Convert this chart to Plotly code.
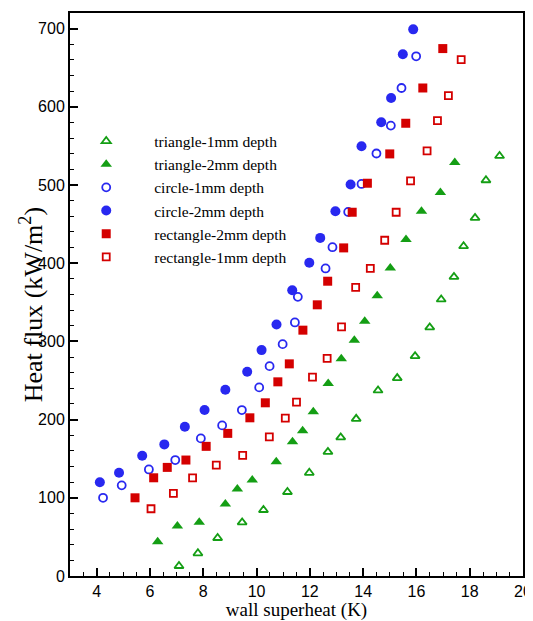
import plotly.graph_objects as go

# ---------------- data ----------------
tri1_x = [7.09, 7.80, 8.54, 9.46, 10.26, 11.16, 11.98, 12.68, 13.16, 13.74, 14.56, 15.28, 15.95, 16.50, 16.93, 17.41, 17.77, 18.20, 18.61, 19.12]
tri1_y = [12.8, 29, 48.6, 68.6, 84.4, 107.4, 132, 158.7, 177.3, 201, 237.3, 253.1, 281.2, 317.9, 353.7, 382.5, 421.8, 458, 506.1, 537.2]

tri2_x = [6.29, 7.03, 7.85, 8.83, 9.28, 9.84, 10.74, 11.35, 11.73, 12.13, 12.69, 13.18, 13.67, 14.06, 14.53, 15.02, 15.61, 16.19, 16.90, 17.44]
tri2_y = [43.8, 63.9, 68.6, 92, 111.2, 122.7, 146.1, 171.7, 185.7, 210, 246.3, 277.7, 301.6, 325.9, 358.3, 394, 430.3, 466.5, 490.4, 528.8]

cir1_x = [4.24, 4.94, 5.96, 6.95, 7.91, 8.71, 9.45, 10.10, 10.49, 10.98, 11.44, 11.55, 12.59, 12.85, 13.44, 13.94, 14.50, 15.04, 15.44, 15.99]
cir1_y = [100, 115.9, 136.3, 148.3, 176, 192.6, 212.2, 241.2, 268.4, 296.5, 324.3, 357, 393.3, 420.5, 465.6, 501.4, 540.3, 576, 624.1, 664.6]

cir2_x = [4.12, 4.84, 5.71, 6.54, 7.31, 8.05, 8.83, 9.65, 10.19, 10.75, 11.34, 11.98, 12.39, 12.96, 13.53, 13.94, 14.68, 15.05, 15.49, 15.88]
cir2_y = [120, 132, 153.8, 168.3, 190.8, 212.2, 238.1, 261.1, 288.9, 321.7, 365.5, 400.5, 432.4, 466.5, 500.6, 549.6, 580.3, 611.3, 667.2, 699.1]

rect2_x = [5.44, 6.14, 6.65, 7.35, 8.11, 8.92, 9.75, 10.33, 10.80, 11.23, 11.74, 12.28, 12.67, 13.27, 13.59, 14.16, 15.00, 15.60, 16.24, 16.99]
rect2_y = [100, 125.6, 138.9, 148.3, 165.8, 182.4, 202.3, 221.5, 248.3, 271.3, 314.4, 346.8, 377, 419.6, 465.2, 502.3, 539.8, 579, 624.1, 674.5]

rect1_x = [6.04, 6.88, 7.60, 8.49, 9.48, 10.48, 11.08, 11.50, 12.10, 12.65, 13.19, 13.72, 14.27, 14.81, 15.24, 15.78, 16.40, 16.79, 17.20, 17.68]
rect1_y = [86, 105.7, 125.6, 141.9, 154.3, 178, 201.9, 222.4, 254.3, 278.2, 318.7, 369, 393.3, 429.4, 465.2, 505.2, 543.6, 582.4, 614.4, 660.4]

x_ticks = [4, 6, 8, 10, 12, 14, 16, 18, 20]
y_ticks = [0, 100, 200, 300, 400, 500, 600, 700]

GREEN = "rgb(20,158,20)"
BLUE = "rgb(40,40,240)"
RED = "rgb(212,0,0)"

series = [
    ("triangle-1mm depth", tri1_x, tri1_y, "triangle-up-open", GREEN, 8),
    ("triangle-2mm depth", tri2_x, tri2_y, "triangle-up", GREEN, 10),
    ("circle-1mm depth", cir1_x, cir1_y, "circle-open", BLUE, 8),
    ("circle-2mm depth", cir2_x, cir2_y, "circle", BLUE, 10),
    ("rectangle-2mm depth", rect2_x, rect2_y, "square", RED, 9),
    ("rectangle-1mm depth", rect1_x, rect1_y, "square-open", RED, 7),
]

fig = go.Figure()
for name, xs, ys, sym, col, sz in series:
    fig.add_trace(go.Scatter(
        x=xs, y=ys, mode="markers", name=name,
        marker=dict(symbol=sym, size=sz, color=col,
                    line=dict(color=col, width=1.8 if "open" in sym else 0)),
    ))

axis_common = dict(
    showline=True, linecolor="black", linewidth=2, mirror=True,
    ticks="inside", ticklen=8, tickwidth=2, tickcolor="black",
    showgrid=False, zeroline=False, automargin=False,
    tickfont=dict(family="Liberation Sans, Arial", size=16, color="black"),
)

fig.update_xaxes(
    range=[3, 20], tickvals=x_ticks,
    minor=dict(ticks="inside", ticklen=4, tickwidth=1, tickcolor="black", dtick=0.5, tick0=0),
    title=dict(text="wall superheat (K)", standoff=2,
               font=dict(family="Liberation Serif, Times New Roman", size=19, color="black")),
    **axis_common,
)
fig.update_yaxes(
    range=[0, 720], tickvals=y_ticks,
    minor=dict(ticks="inside", ticklen=4, tickwidth=1, tickcolor="black", dtick=20, tick0=0),
    **axis_common,
)

fig.add_annotation(
    text="Heat flux (kW/m<sup>2</sup>)", textangle=-90,
    xref="paper", yref="paper", x=(31 - 70) / 453.5, y=(576 - 305) / 563.5,
    xanchor="center", yanchor="middle", showarrow=False,
    font=dict(family="Liberation Serif, Times New Roman", size=26, color="black"),
)

fig.update_layout(
    width=525, height=613,
    margin=dict(l=62, r=9.5, t=4.5, b=45),
    paper_bgcolor="white", plot_bgcolor="white",
    showlegend=True,
    legend=dict(
        x=-0.026, y=0.802, xanchor="left", yanchor="top",
        bgcolor="rgba(0,0,0,0)", borderwidth=0,
        font=dict(family="Liberation Serif, Times New Roman", size=15.5, color="black"),
        itemwidth=86, tracegroupgap=0,
    ),
)

fig.write_html("out.html")
